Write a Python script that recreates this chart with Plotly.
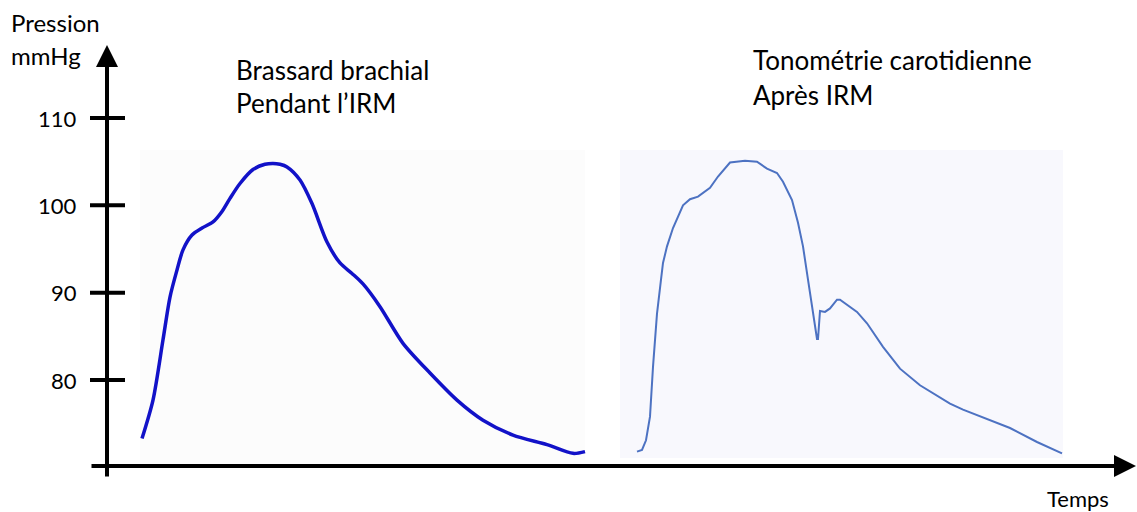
import plotly.graph_objects as go

W, H = 1137, 512

# y ticks (mmHg)
y_ticks = [80, 90, 100, 110]

# Brassard brachial - pendant l'IRM (temps en unités arbitraires)
brach_t = [142, 153, 163, 170, 177, 183, 192, 202, 213, 222, 230, 240, 253,
           265, 273, 280, 287, 300, 312, 327, 340, 352, 363, 380, 403, 430,
           457, 483, 513, 547, 573, 585]
brach_p = [73.3, 77.7, 84.6, 89.5, 92.6, 94.9, 96.6, 97.4, 98.1, 99.3, 100.8,
           102.5, 104.1, 104.7, 104.8, 104.7, 104.4, 102.9, 100.2, 95.8, 93.4,
           92.2, 91.0, 88.4, 84.2, 80.8, 77.7, 75.4, 73.7, 72.6, 71.6, 71.8]

# Tonométrie carotidienne - après IRM
carot_t = [637, 642, 646, 650, 653, 657, 661, 663, 667, 673, 683, 690, 698,
           710, 718, 730, 745, 757, 767, 777, 783, 792, 798, 803, 808, 813,
           817, 818, 820, 825, 830, 837, 840, 857, 867, 883, 893, 900, 920,
           930, 950, 963, 977, 1010, 1037, 1062]
carot_p = [71.8, 72.0, 73.1, 75.8, 81.5, 87.6, 91.5, 93.4, 95.3, 97.4, 100.0,
           100.7, 101.0, 102.0, 103.3, 104.9, 105.1, 105.0, 104.2, 103.7, 102.7,
           100.6, 98.0, 95.3, 91.5, 88.0, 84.7, 84.7, 87.9, 87.8, 88.2, 89.2,
           89.2, 87.8, 86.5, 83.8, 82.3, 81.3, 79.4, 78.7, 77.3, 76.6, 76.0,
           74.5, 72.9, 71.6]

# pixel scale used for the axis range (10 mmHg ~ 87.3 px)
PX = 8.733
Y0, Y1 = 80 - (H - 380) / PX, 80 + 380 / PX


def yv(py):
    return 80 - (py - 380) / PX


FONT = "Lato"

fig = go.Figure()

# pale backgrounds of the two scanned traces
fig.add_shape(type="rect", x0=140, x1=585, y0=yv(460), y1=yv(150),
              fillcolor="#fcfcfc", line_width=0, layer="below")
fig.add_shape(type="rect", x0=620, x1=1063, y0=yv(458), y1=yv(150),
              fillcolor="#f8f8fd", line_width=0, layer="below")

fig.add_trace(go.Scatter(x=brach_t, y=brach_p, mode="lines",
                         line=dict(color="#1212c8", width=3.5, shape="spline", smoothing=0.8),
                         hoverinfo="skip"))
fig.add_trace(go.Scatter(x=carot_t, y=carot_p, mode="lines",
                         line=dict(color="#4d72c2", width=2),
                         hoverinfo="skip"))

# ticks crossing the y axis
for v in y_ticks:
    fig.add_shape(type="line", x0=90, x1=125, y0=v, y1=v,
                  line=dict(color="black", width=4))
    fig.add_annotation(x=79, y=v, xref="x", yref="y", text=str(v),
                       showarrow=False, xanchor="right", yanchor="middle",
                       font=dict(size=22, family=FONT, color="black"))

# axes with arrows
fig.add_annotation(x=107, y=yv(45), ax=107, ay=yv(478), xref="x", yref="y",
                   axref="x", ayref="y", text="", showarrow=True,
                   arrowhead=2, arrowsize=1.1, arrowwidth=4, arrowcolor="black")
fig.add_annotation(x=1136, y=yv(466), ax=90, ay=yv(466), xref="x", yref="y",
                   axref="x", ayref="y", text="", showarrow=True,
                   arrowhead=2, arrowsize=1.1, arrowwidth=4, arrowcolor="black")

labels = [
    (9, 22, "Pression", 24),
    (9, 55, "mmHg", 24),
    (234, 70, "Brassard brachial", 26),
    (234, 103, "Pendant l’IRM", 26),
    (751, 60, "Tonométrie carotidienne", 26),
    (751, 95, "Après IRM", 26),
    (1045, 498, "Temps", 22),
]
for x, py, txt, size in labels:
    fig.add_annotation(x=x, y=yv(py), xref="x", yref="y", text=txt,
                       showarrow=False, xanchor="left", yanchor="middle",
                       font=dict(size=size, family=FONT, color="black"))

fig.update_layout(
    width=W, height=H,
    margin=dict(l=0, r=0, t=0, b=0),
    plot_bgcolor="white", paper_bgcolor="white",
    showlegend=False,
    xaxis=dict(range=[0, W], visible=False, fixedrange=True),
    yaxis=dict(range=[Y0, Y1], visible=False, fixedrange=True),
)

fig.write_html("out.html", config={"displayModeBar": False},
               post_script="document.body.style.margin='0';")
